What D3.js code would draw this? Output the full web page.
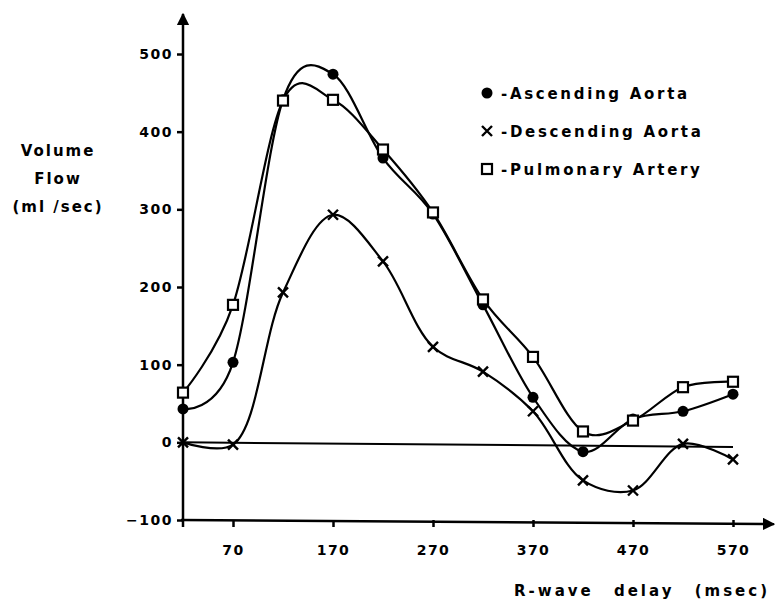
<!DOCTYPE html>
<html>
  <head>
    <title>Volume Flow</title>
    <meta charset="utf-8">
    <script src='https://d3js.org/d3.v7.min.js'></script>
    <style>
      body { margin: 0; background: #fff; }
      text { font-family: 'DejaVu Sans', sans-serif; font-weight: bold; fill: #000; }
    </style>
  </head>
  <body>
  <div id="svgcontainer"></div>
  <script>
    var width = 776,
        height = 602;

    // R-wave delay (msec)
    var delays = [20, 70, 120, 170, 220, 270, 320, 370, 420, 470, 520, 570];
    var ascending = [43, 103, 441, 474, 366, 294, 177, 58, -12, 30, 40, 62];
    var descending = [0, -3, 193, 293, 233, 123, 91, 40, -49, -62, -2, -22];
    var pulmonary = [64, 177, 440, 441, 377, 296, 184, 110, 14, 28, 71, 78];

    var xTicks = [70, 170, 270, 370, 470, 570];
    var yTicks = [-100, 0, 100, 200, 300, 400, 500];
    var legendNames = ['-Ascending Aorta', '-Descending Aorta', '-Pulmonary Artery'];

    var c = d3.select('#svgcontainer')
      .append('svg')
      .attr('width', width)
      .attr('height', height);

    var x = d3.scaleLinear().domain([20, 570]).range([183, 733]);
    var y = d3.scaleLinear().domain([-100, 500]).range([520, 54]);

    var defs = c.append('defs');
    defs.append('marker')
      .attr('id', 'arrow')
      .attr('viewBox', '0 0 10 10')
      .attr('refX', 9).attr('refY', 5)
      .attr('markerWidth', 5).attr('markerHeight', 5)
      .attr('markerUnits', 'strokeWidth')
      .attr('orient', 'auto')
      .append('path')
      .attr('d', 'M0,0 L10,5 L0,10 z')
      .attr('fill', '#000');

    // axes lines with arrows
    c.append('line')
      .attr('x1', x(20)).attr('y1', y(-100) + 7)
      .attr('x2', x(20)).attr('y2', 14)
      .attr('stroke', '#000').attr('stroke-width', 2.5)
      .attr('marker-end', 'url(#arrow)');
    c.append('line')
      .attr('x1', x(20) - 2).attr('y1', y(-100))
      .attr('x2', 774).attr('y2', y(-100) + 4)
      .attr('stroke', '#000').attr('stroke-width', 2.5)
      .attr('marker-end', 'url(#arrow)');

    // y ticks
    var yAxis = c.append('g')
      .attr('transform', 'translate(' + x(20) + ',0)')
      .call(d3.axisLeft(y).tickValues(yTicks).tickSize(6).tickPadding(4));
    yAxis.select('.domain').remove();
    yAxis.selectAll('line').attr('stroke-width', 2.5);
    yAxis.selectAll('text')
      .style('font-size', '14px')
      .style('letter-spacing', '1.5px')
      .attr('font-family', null);

    // x ticks
    var xAxis = c.append('g')
      .attr('transform', 'translate(0,' + y(-100) + ')')
      .call(d3.axisBottom(x).tickValues(xTicks).tickSize(7).tickPadding(18));
    xAxis.select('.domain').remove();
    xAxis.selectAll('line').attr('stroke-width', 2.5);
    xAxis.selectAll('text')
      .style('font-size', '14px')
      .style('letter-spacing', '1.5px')
      .attr('font-family', null);

    // zero line
    c.append('line')
      .attr('x1', x(20)).attr('y1', y(0))
      .attr('x2', x(570)).attr('y2', y(-6))
      .attr('stroke', '#000').attr('stroke-width', 2);

    // curves (descending one is smoothed less, it stays flat near zero)
    var series = [ascending, descending, pulmonary];
    var alphas = [0, 0.5, 0];
    c.selectAll('path.curve')
      .data(series)
      .enter()
      .append('path')
      .attr('class', 'curve')
      .attr('fill', 'none')
      .attr('stroke', '#000')
      .attr('stroke-width', 2.2)
      .attr('d', function(s, i) {
        return d3.line()
          .x(function(d) { return x(d[0]); })
          .y(function(d) { return y(d[1]); })
          .curve(d3.curveCatmullRom.alpha(alphas[i]))(d3.zip(delays, s));
      });

    function drawMarker(g, kind) {
      if (kind === 0) {
        g.append('circle').attr('r', 5.5).attr('fill', '#000');
      } else if (kind === 1) {
        g.append('path').attr('d', 'M-5,-5 L5,5 M-5,5 L5,-5')
          .attr('stroke', '#000').attr('stroke-width', 2.4);
      } else {
        g.append('rect').attr('x', -5).attr('y', -5).attr('width', 10).attr('height', 10)
          .attr('fill', '#fff').attr('stroke', '#000').attr('stroke-width', 2.2);
      }
    }

    series.forEach(function(s, k) {
      c.append('g').selectAll('g')
        .data(d3.zip(delays, s))
        .enter()
        .append('g')
        .attr('transform', function(d) { return 'translate(' + x(d[0]) + ',' + y(d[1]) + ')'; })
        .each(function() { drawMarker(d3.select(this), k); });
    });

    // legend
    var legend = c.append('g');
    legendNames.forEach(function(name, i) {
      var gy = 93 + i * 38;
      drawMarker(legend.append('g').attr('transform', 'translate(487,' + gy + ')'), i);
      legend.append('text')
        .attr('x', 501).attr('y', gy + 6)
        .style('font-size', '15px')
        .style('letter-spacing', '2.7px')
        .text(name);
    });

    // axis titles
    var yTitle = ['Volume', 'Flow', '(ml /sec)'];
    c.selectAll('text.ytitle')
      .data(yTitle)
      .enter()
      .append('text')
      .attr('class', 'ytitle')
      .attr('x', 58)
      .attr('y', function(d, i) { return 156 + i * 28; })
      .attr('text-anchor', 'middle')
      .style('font-size', '15px')
      .style('letter-spacing', '2px')
      .text(function(d) { return d; });

    c.append('text')
      .attr('x', 770).attr('y', 596)
      .attr('text-anchor', 'end')
      .style('font-size', '15px')
      .style('letter-spacing', '3px')
      .style('word-spacing', '12px')
      .text('R-wave delay (msec)');
  </script>
  </body>
</html>
